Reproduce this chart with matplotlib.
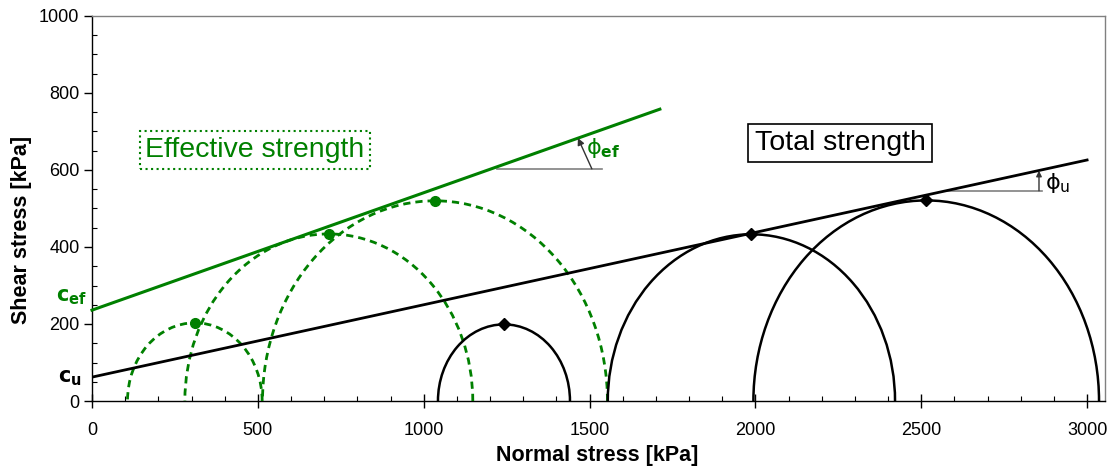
import matplotlib
matplotlib.use("Agg")
import matplotlib.pyplot as plt
from matplotlib.patches import Arc
from matplotlib.ticker import MultipleLocator

plt.rcParams['font.family'] = ['Liberation Sans', 'DejaVu Sans']
plt.rcParams['mathtext.fontset'] = 'dejavusans'

# ---- data ----
eff_centers = [310, 714, 1034]
eff_radii = [203, 434, 520]
tot_centers = [1242, 1988, 2515]
tot_radii = [199, 433, 521]

eff_env_x = [0, 1712]
eff_env_y = [236, 758]
tot_env_x = [0, 3000]
tot_env_y = [62, 626]

x_ticks = [0, 500, 1000, 1500, 2000, 2500, 3000]
y_ticks = [0, 200, 400, 600, 800, 1000]

GREEN = '#008000'

fig = plt.figure(figsize=(11.12, 4.66), dpi=100)
ax = fig.add_axes([92/1112, 1-401/466, (1105-92)/1112, (401-16)/466])
ax.set_xlim(0, 3054)
ax.set_ylim(0, 1000)

# Mohr circles
for c, r in zip(eff_centers, eff_radii):
    ax.add_patch(Arc((c, 0), 2*r, 2*r, theta1=0, theta2=180, color=GREEN,
                     lw=2.0, linestyle=(0, (2.6, 1.8)), zorder=3))
for c, r in zip(tot_centers, tot_radii):
    ax.add_patch(Arc((c, 0), 2*r, 2*r, theta1=0, theta2=180, color='black',
                     lw=1.8, zorder=3))

ax.plot(eff_centers, eff_radii, 'o', color=GREEN, ms=7, zorder=4)
ax.plot(tot_centers, tot_radii, 'D', color='black', ms=6, zorder=4)

# envelopes
ax.plot(eff_env_x, eff_env_y, color=GREEN, lw=2.2, zorder=3, clip_on=False)
ax.plot(tot_env_x, tot_env_y, color='black', lw=2.0, zorder=3)

# angle markers
ax.plot([1222, 1537], [603, 603], color='#808080', lw=1.2, zorder=2)
ax.annotate('', xy=(1465, 683), xytext=(1507, 603),
            arrowprops=dict(arrowstyle='-|>', color='#333333', lw=1.0,
                            mutation_scale=10, shrinkA=0, shrinkB=0))
ax.text(1490, 657, r'$\mathrm{\phi}_{\mathbf{ef}}$', color=GREEN, fontsize=16,
        ha='left', va='center')

ax.plot([2574, 2864], [546, 546], color='#808080', lw=1.2, zorder=2)
ax.annotate('', xy=(2855, 598), xytext=(2855, 546),
            arrowprops=dict(arrowstyle='-|>', color='#333333', lw=1.0,
                            mutation_scale=8, shrinkA=0, shrinkB=0))
ax.text(2872, 566, r'$\mathrm{\phi}_{\mathrm{u}}$', color='black', fontsize=16,
        ha='left', va='center')

# c labels
ax.text(-63, 270, r'$\mathbf{c_{ef}}$', color=GREEN, fontsize=15,
        ha='center', va='center', clip_on=False)
ax.text(-68, 60, r'$\mathbf{c_{u}}$', color='black', fontsize=15,
        ha='center', va='center', clip_on=False)

# text boxes
ax.text(491, 652, 'Effective strength', color=GREEN, fontsize=20.5,
        ha='center', va='center',
        bbox=dict(boxstyle='square,pad=0.2', fc='white', ec=GREEN,
                  lw=1.5, ls=':'), zorder=5)
ax.text(2255, 670, 'Total strength', color='black', fontsize=20.5,
        ha='center', va='center',
        bbox=dict(boxstyle='square,pad=0.22', fc='white', ec='black',
                  lw=1.2), zorder=5)

# axes styling
ax.set_xticks(x_ticks)
ax.set_yticks(y_ticks)
ax.xaxis.set_minor_locator(MultipleLocator(100))
ax.yaxis.set_minor_locator(MultipleLocator(50))
ax.tick_params(axis='x', which='major', direction='inout', length=10, width=1,
               labelsize=13, pad=10)
ax.tick_params(axis='y', which='major', direction='out', length=6, width=1,
               labelsize=13, pad=3)
ax.tick_params(which='minor', direction='in', length=3.5, width=0.8)

for s in ['left', 'bottom']:
    ax.spines[s].set_color('black')
    ax.spines[s].set_linewidth(1.0)
for s in ['top', 'right']:
    ax.spines[s].set_color('#808080')
    ax.spines[s].set_linewidth(1.0)

fig.text(597/1112, 1-455/466, 'Normal stress [kPa]', fontsize=15.5,
         fontweight='bold', ha='center', va='center')
fig.text(22/1112, 1-230/466, 'Shear stress [kPa]', fontsize=15.5,
         fontweight='bold', ha='center', va='center', rotation=90)

fig.savefig('out.png', dpi=100)
